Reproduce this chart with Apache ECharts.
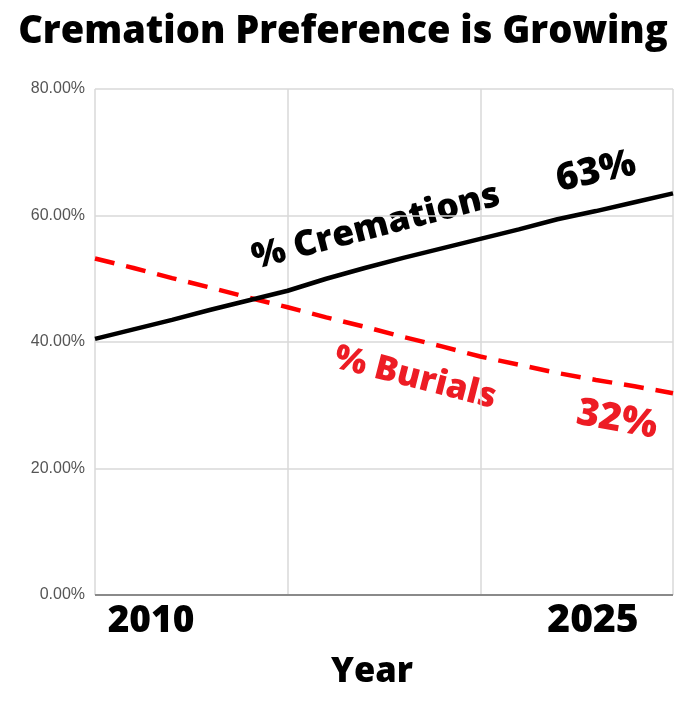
<!DOCTYPE html>
<html>
<head>
<meta charset="utf-8">
<script src="https://cdn.jsdelivr.net/npm/echarts@6/dist/echarts.min.js"></script>
<style>
html,body{margin:0;padding:0;background:#fff;}
#chart{width:697px;height:712px;}
</style>
</head>
<body>
<div id="chart"></div>
<script>
var years = [2010,2011,2012,2013,2014,2015,2016,2017,2018,2019,2020,2021,2022,2023,2024,2025];
var cremations = [40.5,42.0,43.5,45.1,46.6,48.1,50.0,51.7,53.3,54.8,56.3,57.8,59.4,60.7,62.1,63.5];
var burials = [53.2,51.7,50.1,48.6,47.0,45.5,43.9,42.4,40.8,39.3,37.7,36.4,35.1,34.0,33.0,31.9];
var yTicks = [0,20,40,60,80];
var titleText = 'Cremation Preference is Growing';
var xTitle = 'Year';
var startLabel = '2010';
var endLabel = '2025';
var cremLabel = '% Cremations';
var burLabel = '% Burials';
var cremEnd = '63%';
var burEnd = '32%';

var FONT = '"Open Sans", Lato, sans-serif';
function big(size){ return '800 ' + size + 'px ' + FONT; }
var chart = echarts.init(document.getElementById('chart'));
chart.setOption({
  backgroundColor:'#fff',
  animation:false,
  grid:{left:95,right:24,top:89,bottom:117},
  xAxis:{type:'value',min:years[0],max:years[years.length-1],interval:5,
    axisLabel:{show:false},axisTick:{show:false},
    axisLine:{show:false},
    splitLine:{show:true,lineStyle:{color:'#d9d9d9',width:1.5}}},
  yAxis:{type:'value',min:yTicks[0],max:yTicks[yTicks.length-1],interval:20,
    axisLabel:{formatter:function(v){return v.toFixed(2)+'%';},color:'#555',fontFamily:'Liberation Sans, Arial, sans-serif',fontSize:16,margin:10},
    axisTick:{show:false},axisLine:{show:false},
    splitLine:{lineStyle:{color:'#d9d9d9',width:1.5}}},
  series:[
    {type:'line',data:years.map(function(y,i){return [y,cremations[i]];}),showSymbol:false,
      lineStyle:{color:'#000',width:4.5},z:3},
    {type:'line',data:years.map(function(y,i){return [y,burials[i]];}),showSymbol:false,
      lineStyle:{color:'#ff0000',width:4.5,type:[20,12]},z:2},
    {type:'line',data:[[years[0],0],[years[years.length-1],0]],showSymbol:false,silent:true,
      lineStyle:{color:'#8a8a8a',width:2},z:1}
  ],
  graphic:[
    {type:'text',x:343,y:32,style:{text:titleText,fill:'#000',font:big(38),align:'center',verticalAlign:'middle'}},
    {type:'text',x:376,y:227,rotation:0.255,style:{text:cremLabel,fill:'#000',font:big(35.5),align:'center',verticalAlign:'middle'}},
    {type:'text',x:596,y:172,rotation:0.22,style:{text:cremEnd,fill:'#000',font:big(38),align:'center',verticalAlign:'middle'}},
    {type:'text',x:415,y:378,rotation:-0.25,style:{text:burLabel,fill:'#ed1c24',font:big(34.5),align:'center',verticalAlign:'middle'}},
    {type:'text',x:617,y:420,rotation:-0.18,style:{text:burEnd,fill:'#ed1c24',font:big(38.5),align:'center',verticalAlign:'middle'}},
    {type:'text',x:151,y:621,style:{text:startLabel,fill:'#000',font:big(37),align:'center',verticalAlign:'middle'}},
    {type:'text',x:593,y:621,style:{text:endLabel,fill:'#000',font:big(39),align:'center',verticalAlign:'middle'}},
    {type:'text',x:372,y:672,style:{text:xTitle,fill:'#000',font:big(34.5),align:'center',verticalAlign:'middle'}}
  ]
});
</script>
</body>
</html>
